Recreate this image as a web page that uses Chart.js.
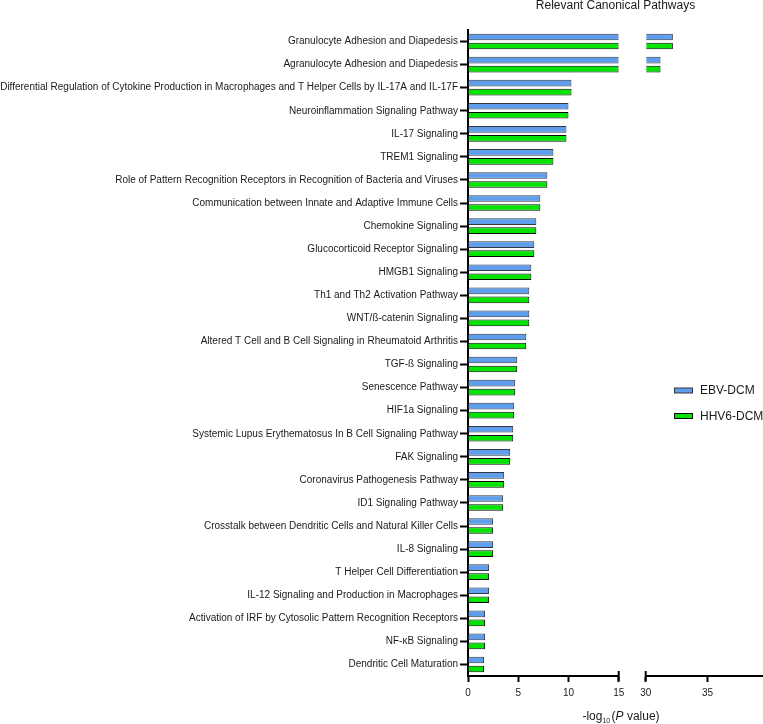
<!DOCTYPE html>
<html>
<head>
<meta charset="utf-8">
<script src="https://cdn.jsdelivr.net/npm/chart.js@4.4.1/dist/chart.umd.min.js"></script>
<style>
  html, body { margin: 0; padding: 0; background: #ffffff; }
  #wrap { width: 763px; height: 724px; position: relative; }
  canvas { display: block; }
</style>
</head>
<body>
<div id="wrap"><canvas id="c" width="763" height="724"></canvas></div>
<script>
// ---------------- data ----------------
const categories = [
  "Granulocyte Adhesion and Diapedesis",
  "Agranulocyte Adhesion and Diapedesis",
  "Differential Regulation of Cytokine Production in Macrophages and T Helper Cells by IL-17A and IL-17F",
  "Neuroinflammation Signaling Pathway",
  "IL-17 Signaling",
  "TREM1 Signaling",
  "Role of Pattern Recognition Receptors in Recognition of Bacteria and Viruses",
  "Communication between Innate and Adaptive Immune Cells",
  "Chemokine Signaling",
  "Glucocorticoid Receptor Signaling",
  "HMGB1 Signaling",
  "Th1 and Th2 Activation Pathway",
  "WNT/ß-catenin Signaling",
  "Altered T Cell and B Cell Signaling in Rheumatoid Arthritis",
  "TGF-ß Signaling",
  "Senescence Pathway",
  "HIF1a Signaling",
  "Systemic Lupus Erythematosus In B Cell Signaling Pathway",
  "FAK Signaling",
  "Coronavirus Pathogenesis Pathway",
  "ID1 Signaling Pathway",
  "Crosstalk between Dendritic Cells and Natural Killer Cells",
  "IL-8 Signaling",
  "T Helper Cell Differentiation",
  "IL-12 Signaling and Production in Macrophages",
  "Activation of IRF by Cytosolic Pattern Recognition Receptors",
  "NF-κB Signaling",
  "Dendritic Cell Maturation"
];
const ebvValues  = [32.2, 31.2, 10.3, 10.0, 9.8, 8.5, 7.9, 7.2, 6.8, 6.6, 6.3, 6.1, 6.1, 5.8, 4.9, 4.7, 4.6, 4.5, 4.2, 3.6, 3.5, 2.5, 2.5, 2.1, 2.1, 1.7, 1.7, 1.6];
const hhv6Values = [32.2, 31.2, 10.3, 10.0, 9.8, 8.5, 7.9, 7.2, 6.8, 6.6, 6.3, 6.1, 6.1, 5.8, 4.9, 4.7, 4.6, 4.5, 4.2, 3.6, 3.5, 2.5, 2.5, 2.1, 2.1, 1.7, 1.7, 1.6];
const seriesLabels = ["EBV-DCM", "HHV6-DCM"];
const lowSegment  = { min: 0,  max: 15,   step: 5 };   // ticks 0,5,10,15
const highSegment = { min: 30, max: 39.5, step: 5 };   // ticks 30,35
const chartTitle = "Relevant Canonical Pathways";

// ---------------- styling ----------------
const FONT = "Arial, 'Liberation Sans', sans-serif";
Chart.defaults.font.family = FONT;
const blueFill = '#5f9ded', blueBorder = '#33373f';
const greenFill = '#00e400', greenBorder = '#0a0a0a';

const lowPart  = arr => arr.map(v => Math.min(v, lowSegment.max));
const highPart = arr => arr.map(v => (v > highSegment.min ? v : null));

const barCommon = { borderWidth: 1, borderSkipped: 'start', categoryPercentage: 0.78, barPercentage: 0.74 };

const datasets = [
  Object.assign({ label: seriesLabels[0], data: lowPart(ebvValues),  xAxisID: 'x',  stack: 'a', backgroundColor: blueFill,  borderColor: blueBorder }, barCommon),
  Object.assign({ label: seriesLabels[1], data: lowPart(hhv6Values), xAxisID: 'x',  stack: 'b', backgroundColor: greenFill, borderColor: greenBorder }, barCommon),
  Object.assign({ label: seriesLabels[0] + ' (hi)', data: highPart(ebvValues),  xAxisID: 'x2', stack: 'a', base: highSegment.min, backgroundColor: blueFill,  borderColor: blueBorder }, barCommon),
  Object.assign({ label: seriesLabels[1] + ' (hi)', data: highPart(hhv6Values), xAxisID: 'x2', stack: 'b', base: highSegment.min, backgroundColor: greenFill, borderColor: greenBorder }, barCommon)
];

function noPad(s) { s.paddingLeft = 0; s.paddingRight = 0; }

const xTickFont = { size: 10, family: FONT };
const xGrid = { drawOnChartArea: false, drawTicks: true, tickLength: 6, tickWidth: 2, color: '#000' };
const xBorder = { display: true, color: '#000', width: 2 };

// legend + axis title + break marks plugin
const decorations = {
  id: 'decorations',
  afterDraw(chart) {
    const ctx = chart.ctx;
    ctx.save();
    // legend
    const legendRows = [390.5, 416];
    seriesLabels.forEach((lab, i) => {
      const ds = chart.data.datasets[i];
      const y = legendRows[i];
      ctx.fillStyle = ds.backgroundColor;
      ctx.strokeStyle = ds.borderColor;
      ctx.lineWidth = 1;
      ctx.fillRect(674, y - 2.5, 19, 5);
      ctx.strokeRect(674.5, y - 2.5, 18, 5);
      ctx.fillStyle = '#1a1a1a';
      ctx.font = '12px ' + FONT;
      ctx.textBaseline = 'middle';
      ctx.textAlign = 'left';
      ctx.fillText(lab, 700, y + 0.5);
    });
    // break marks on the x axis
    const xs = chart.scales.x, x2 = chart.scales.x2;
    const axisY = chart.chartArea.bottom;
    ctx.strokeStyle = '#000';
    ctx.lineWidth = 2;
    [xs.getPixelForValue(lowSegment.max), x2.getPixelForValue(highSegment.min)].forEach(px => {
      ctx.beginPath();
      ctx.moveTo(px, axisY - 5);
      ctx.lineTo(px, axisY + 5);
      ctx.stroke();
    });
    // x axis title: -log10 (P value)
    const parts = [
      { t: '-log', font: '12px ' + FONT, dy: 0 },
      { t: '10', font: '7px ' + FONT, dy: 3 },
      { t: ' (', font: '12px ' + FONT, dy: 0, tight: true },
      { t: 'P', font: 'italic 12px ' + FONT, dy: 0 },
      { t: ' value)', font: '12px ' + FONT, dy: 0 }
    ];
    let total = 0;
    parts.forEach(p => { ctx.font = p.font; p.w = ctx.measureText(p.t).width; if (p.tight) p.w -= 2; total += p.w; });
    let cx = 621 - total / 2;
    const baseY = 720;
    ctx.fillStyle = '#1a1a1a';
    ctx.textBaseline = 'alphabetic';
    parts.forEach(p => {
      ctx.font = p.font;
      ctx.fillText(p.t, p.tight ? cx - 2 : cx, baseY + p.dy);
      cx += p.w;
    });
    ctx.restore();
  }
};

new Chart(document.getElementById('c'), {
  type: 'bar',
  data: { labels: categories, datasets },
  plugins: [decorations],
  options: {
    indexAxis: 'y',
    responsive: false,
    animation: false,
    devicePixelRatio: 1,
    layout: { padding: { left: 0, right: 0, top: 0, bottom: 20 } },
    plugins: {
      legend: { display: false },
      tooltip: { enabled: false },
      title: {
        display: true, text: chartTitle, fullSize: false, color: '#1a1a1a',
        font: { size: 12, weight: 'normal', family: FONT, lineHeight: 1.0 },
        padding: { top: 0, bottom: 18 }
      }
    },
    scales: {
      y: {
        type: 'category', position: 'left', offset: true,
        grid: { offset: false, drawOnChartArea: false, drawTicks: true, tickLength: 8, tickWidth: 2, color: '#000' },
        border: { display: true, color: '#000', width: 2 },
        ticks: { autoSkip: false, padding: 2, color: '#1a1a1a', font: { size: 10, family: FONT } },
        afterFit(s) { s.width = 468; }
      },
      x: {
        type: 'linear', position: 'bottom', stack: 'xaxis', stackWeight: 150.7,
        min: lowSegment.min, max: lowSegment.max,
        ticks: { stepSize: lowSegment.step, includeBounds: false, padding: 5, color: '#1a1a1a', font: xTickFont, maxRotation: 0 },
        grid: xGrid, border: xBorder,
        afterFit: noPad
      },
      xgap: {
        type: 'linear', position: 'bottom', stack: 'xaxis', stackWeight: 27,
        min: 0, max: 1,
        ticks: { display: false }, grid: { display: false }, border: { display: false },
        afterFit: noPad
      },
      x2: {
        type: 'linear', position: 'bottom', stack: 'xaxis', stackWeight: 117.3,
        min: highSegment.min, max: highSegment.max,
        ticks: { stepSize: highSegment.step, includeBounds: false, padding: 5, color: '#1a1a1a', font: xTickFont, maxRotation: 0 },
        grid: xGrid, border: xBorder,
        afterFit: noPad
      }
    }
  }
});
</script>
</body>
</html>
